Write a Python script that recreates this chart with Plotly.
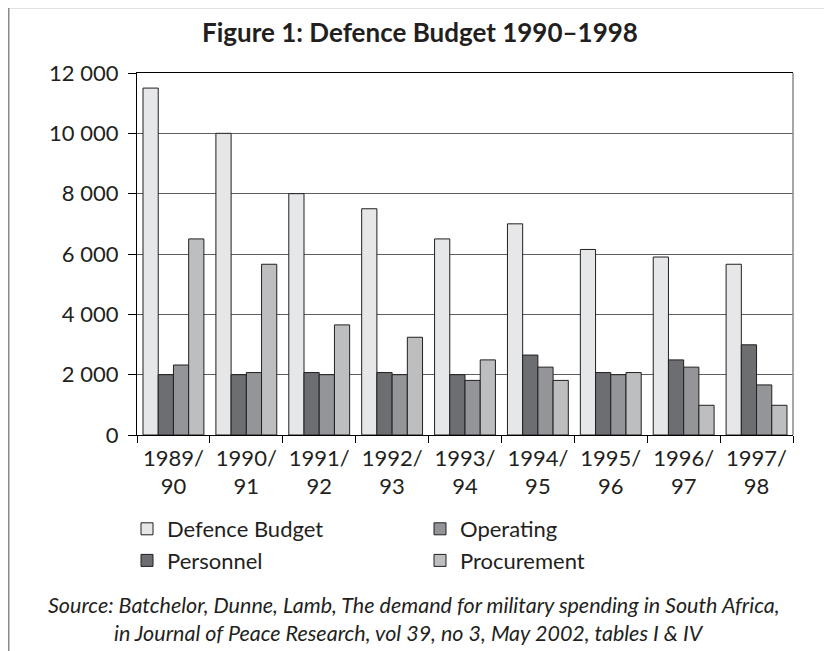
import plotly.graph_objects as go

categories = ["1989/<br>90", "1990/<br>91", "1991/<br>92", "1992/<br>93", "1993/<br>94",
              "1994/<br>95", "1995/<br>96", "1996/<br>97", "1997/<br>98"]
defence_budget = [11500, 10000, 8000, 7500, 6500, 7000, 6150, 5900, 5660]
personnel = [2000, 2000, 2070, 2070, 2000, 2650, 2070, 2490, 2990]
operating = [2320, 2070, 2000, 2000, 1810, 2250, 2000, 2250, 1660]
procurement = [6500, 5660, 3650, 3240, 2490, 1810, 2070, 985, 985]

y_tick_vals = [0, 2000, 4000, 6000, 8000, 10000, 12000]
y_tick_text = ["0", "2 000", "4 000", "6 000", "8 000", "10 000", "12 000"]

title_text = "Figure 1: Defence Budget 1990–1998"
source_line1 = "Source: Batchelor, Dunne, Lamb, The demand for military spending in South Africa,"
source_line2 = "in Journal of Peace Research, vol 39, no 3, May 2002, tables I &amp; IV"

# page body has an 8px margin, so the figure is placed at (8, 8) in the window
OFF = 8
W, H = 832 - OFF, 651 - OFF
# plot area in window pixels: x 137..793, y 73..435
L, R, T, B = 137 - OFF, 832 - 793, 73 - OFF, 651 - 435
PW, PH = W - L - R, H - T - B


def px_x(px):
    return (px - OFF - L) / PW


def px_y(py):
    return (H - B - (py - OFF)) / PH


TXT = "#231f20"
FONT = "Lato"
OUTLINE = dict(color="#231f20", width=1)

series = [
    ("Defence Budget", defence_budget, "#e6e7e8", 1),
    ("Personnel", personnel, "#6d6e71", 3),
    ("Operating", operating, "#939598", 2),
    ("Procurement", procurement, "#bcbec0", 4),
]

fig = go.Figure()
for name, vals, color, rank in series:
    fig.add_trace(go.Bar(
        x=categories, y=vals, name=name,
        marker=dict(color=color, line=OUTLINE),
        legendrank=rank,
    ))

fig.update_layout(
    width=W, height=H,
    margin=dict(l=L, r=R, t=T, b=B, autoexpand=False),
    paper_bgcolor="white", plot_bgcolor="white",
    barmode="group", bargap=0.165, bargroupgap=0,
    font=dict(family=FONT, size=22, color=TXT),
    title=dict(text="<b>" + title_text + "</b>", x=(420 - OFF) / W, xanchor="center",
               xref="container", yref="container", y=1 - (33 - OFF) / H, yanchor="middle",
               font=dict(family=FONT, size=26, color=TXT)),
    showlegend=True,
    legend=dict(orientation="h", x=px_x(127), xanchor="left", y=px_y(508), yanchor="top",
                entrywidth=248, entrywidthmode="pixels",
                font=dict(family=FONT, size=22, color=TXT),
                bgcolor="rgba(0,0,0,0)", traceorder="normal"),
    xaxis=dict(showline=True, linecolor="black", linewidth=1.3, mirror=True,
               ticks="outside", tickson="boundaries", ticklen=7, tickcolor="black",
               tickwidth=1.3, showgrid=False, ticklabelstandoff=3,
               tickfont=dict(size=22, color=TXT)),
    yaxis=dict(range=[0, 12000], tickvals=y_tick_vals, ticktext=y_tick_text,
               showline=True, linecolor="black", linewidth=1.3,
               ticks="outside", ticklen=8, tickcolor="black", tickwidth=1.3,
               showgrid=True, gridcolor="#5e5e5e", gridwidth=1.2, zeroline=False,
               ticklabelstandoff=5, tickfont=dict(size=22, color=TXT)),
    annotations=[
        dict(text="<i>" + source_line1 + "</i>", xref="paper", yref="paper",
             x=px_x(414), y=px_y(605), xanchor="center", yanchor="middle",
             showarrow=False, font=dict(family=FONT, size=21.5, color=TXT)),
        dict(text="<i>" + source_line2 + "</i>", xref="paper", yref="paper",
             x=px_x(409), y=px_y(633), xanchor="center", yanchor="middle",
             showarrow=False, font=dict(family=FONT, size=21.5, color=TXT)),
    ],
    shapes=[
        dict(type="line", xref="paper", yref="paper", x0=1, x1=1, y0=0, y1=1,
             line=dict(color="#8a8a8a", width=1.5), layer="above"),
        dict(type="rect", xref="paper", yref="paper",
             x0=px_x(8.75), x1=px_x(831), y0=px_y(680), y1=px_y(7.5),
             line=dict(color="#8a8a8a", width=1.5), layer="above"),
    ],
)

fig.write_html("out.html")
